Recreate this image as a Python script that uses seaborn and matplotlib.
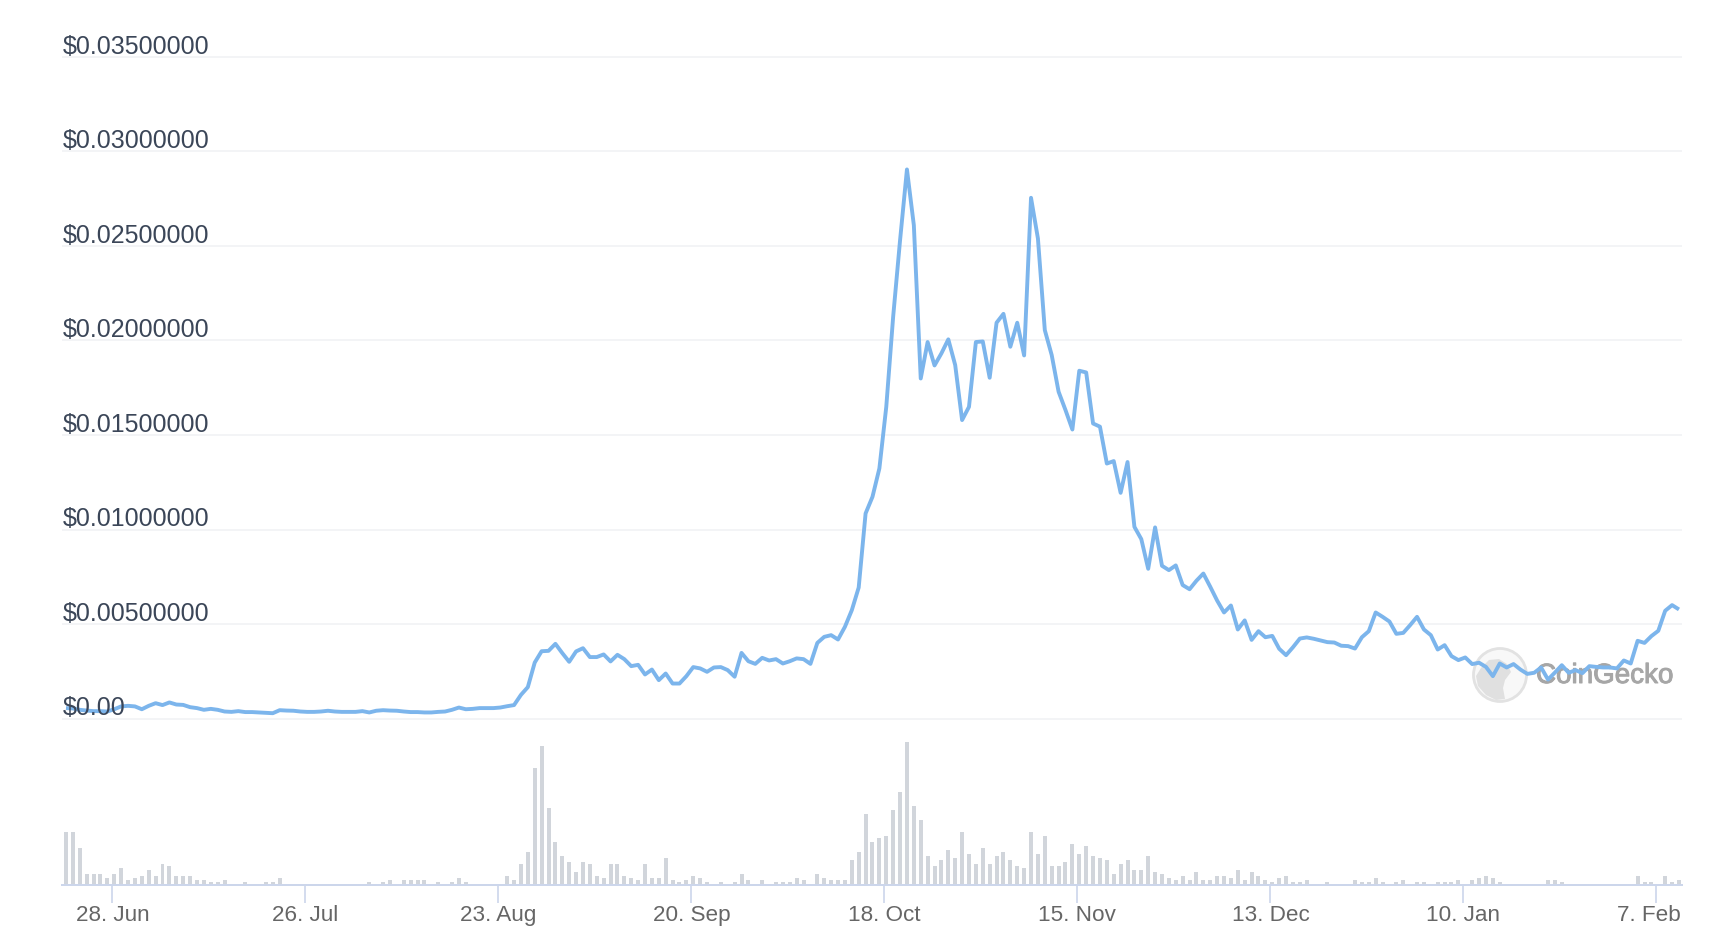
import numpy as np
import pandas as pd
import seaborn as sns
import matplotlib
matplotlib.use("Agg")
import matplotlib.pyplot as plt
import matplotlib.dates as mdates
import matplotlib.patheffects as pe
from matplotlib.patches import Polygon, Ellipse
from matplotlib.transforms import ScaledTranslation

# Price in thousandths of a dollar, one value a day
price_milli_usd = [
    .55, .53, .46, .42, .39, .39, .37, .49, .64, .67, .64, .49, .67, .81, .71, .85, .74, .72, .60, .55,
    .46, .51, .46, .37, .35, .39, .34, .34, .32, .30, .28, .44, .42, .41, .37, .35, .35, .37, .41, .37,
    .35, .35, .35, .39, .32, .41, .44, .42, .41, .37, .34, .34, .32, .32, .35, .37, .46, .58, .49, .51,
    .55, .55, .55, .58, .65, .71, 1.25, 1.66, 2.96, 3.56, 3.58, 3.95, 3.46, 3.00, 3.55, 3.72, 3.25, 3.25, 3.39, 3.02,
    3.37, 3.14, 2.77, 2.84, 2.33, 2.59, 2.03, 2.38, 1.85, 1.85, 2.24, 2.72, 2.65, 2.47, 2.70, 2.72, 2.56, 2.21, 3.47, 3.03,
    2.89, 3.21, 3.07, 3.14, 2.91, 3.03, 3.18, 3.14, 2.89, 4.00, 4.32, 4.41, 4.18, 4.85, 5.73, 6.93, 10.85, 11.73, 13.23, 16.49,
    21.26, 25.30, 29.05, 26.10, 17.99, 19.92, 18.68, 19.32, 20.06, 18.70, 15.79, 16.49, 19.92, 19.95, 18.03, 20.94, 21.41, 19.67, 20.94, 19.21,
    27.55, 25.40, 20.55, 19.23, 17.29, 16.32, 15.29, 18.40, 18.31, 15.61, 15.44, 13.49, 13.62, 11.94, 13.57, 10.14, 9.49, 7.92, 10.11, 8.08,
    7.85, 8.10, 7.06, 6.84, 7.29, 7.67, 6.97, 6.24, 5.61, 5.98, 4.71, 5.19, 4.16, 4.62, 4.30, 4.37, 3.69, 3.35, 3.77, 4.23,
    4.29, 4.22, 4.13, 4.04, 4.02, 3.85, 3.83, 3.70, 4.30, 4.62, 5.61, 5.38, 5.13, 4.48, 4.53, 4.94, 5.38, 4.71, 4.41, 3.65,
    3.88, 3.30, 3.09, 3.23, 2.88, 2.95, 2.73, 2.24, 2.91, 2.70, 2.88, 2.59, 2.36, 2.42, 2.70, 2.06, 2.43, 2.82, 2.42, 2.56,
    2.40, 2.77, 2.73, 2.70, 2.70, 2.65, 3.07, 2.91, 4.11, 4.00, 4.36, 4.64, 5.70, 6.00, 5.77,
]

# Relative daily volume
volume_rel = [
    52, 52, 36, 10, 10, 10, 6, 10, 16, 4, 6, 8, 14, 8, 20, 18, 8, 8, 8, 4,
    4, 2, 2, 4, 0, 0, 2, 0, 0, 2, 2, 6, 0, 0, 0, 0, 0, 0, 0, 0,
    0, 0, 0, 0, 2, 0, 2, 4, 0, 4, 4, 4, 4, 0, 2, 0, 2, 6, 2, 0,
    0, 0, 0, 0, 8, 4, 20, 32, 116, 138, 76, 42, 28, 22, 12, 22, 20, 8, 6, 20,
    20, 8, 6, 4, 20, 6, 6, 26, 4, 2, 4, 8, 6, 2, 0, 2, 0, 2, 10, 4,
    0, 4, 0, 2, 2, 2, 6, 4, 0, 10, 6, 4, 4, 4, 24, 32, 70, 42, 46, 48,
    74, 92, 142, 78, 64, 28, 18, 24, 34, 26, 52, 30, 20, 36, 20, 28, 32, 24, 18, 16,
    52, 30, 48, 18, 18, 22, 40, 30, 38, 28, 26, 24, 10, 20, 24, 14, 14, 28, 12, 10,
    6, 4, 8, 4, 12, 4, 4, 8, 8, 6, 14, 4, 12, 8, 4, 2, 6, 8, 2, 2,
    4, 0, 0, 2, 0, 0, 0, 4, 2, 2, 6, 2, 0, 2, 4, 0, 2, 2, 0, 2,
    2, 2, 4, 0, 4, 6, 8, 6, 2, 0, 0, 0, 0, 0, 0, 4, 4, 2, 0, 0,
    0, 0, 0, 0, 0, 0, 0, 0, 8, 2, 2, 0, 8, 2, 4,
]

y_tick_values = [0, 0.005, 0.01, 0.015, 0.02, 0.025, 0.03, 0.035]
y_tick_labels = ["$0.00", "$0.00500000", "$0.01000000", "$0.01500000",
                 "$0.02000000", "$0.02500000", "$0.03000000", "$0.03500000"]
x_tick_dates = ["2021-06-28", "2021-07-26", "2021-08-23", "2021-09-20", "2021-10-18",
                "2021-11-15", "2021-12-13", "2022-01-10", "2022-02-07"]
x_tick_labels = ["28. Jun", "26. Jul", "23. Aug", "20. Sep", "18. Oct",
                 "15. Nov", "13. Dec", "10. Jan", "7. Feb"]

W, H = 1720, 946
LEFT, RIGHT = 62, 1682
P_TOP, P_BOT = 57, 718.5
V_TOP, V_BOT = 742, 884.5

sns.set_theme(style="white")
plt.rcParams["font.family"] = ["Liberation Sans", "DejaVu Sans"]

dates = pd.date_range("2021-06-21 06:30", periods=len(price_milli_usd), freq="D")
xnum = mdates.date2num(dates)
df = pd.DataFrame({"x": xnum, "price": np.array(price_milli_usd) / 1000.0, "volume": volume_rel})

fig = plt.figure(figsize=(W / 100, H / 100), dpi=100, facecolor="white")
ax = fig.add_axes([LEFT / W, 1 - P_BOT / H, (RIGHT - LEFT) / W, (P_BOT - P_TOP) / H])
vx = fig.add_axes([LEFT / W, 1 - V_BOT / H, (RIGHT - LEFT) / W, (V_BOT - V_TOP) / H])

xlim = (xnum[0] - 0.58, xnum[-1] + 0.44)

# price panel
ax.set_axisbelow(False)
ax.hlines(y_tick_values, xlim[0], xlim[1], color="#f3f4f6", linewidth=1.44, zorder=1, clip_on=False)

# watermark
tf = fig.transFigure
def fp(x, y):
    return (x / W, 1 - y / H)
ring = Ellipse(fp(1500, 675), 53 / W, 53 / H, transform=tf, facecolor="#f8f8f8",
               edgecolor="#e2e2e2", linewidth=2.0, zorder=1.2, clip_on=False)
ax.add_artist(ring)
body = Polygon([fp(*p) for p in [(1481, 668), (1489, 660), (1499, 659), (1507, 664), (1511, 672),
                                 (1505, 680), (1503, 688), (1505, 699), (1496, 700), (1486, 695),
                                 (1478, 686), (1476, 676)]],
               closed=True, transform=tf, facecolor="#e0e0e0", edgecolor="none", zorder=1.3, clip_on=False)
ax.add_artist(body)
ax.text(1536 / W, 1 - 683 / H, "CoinGecko", transform=tf, fontsize=20, color="#a6a6a6",
        ha="left", va="baseline", zorder=1.4, clip_on=False, fontweight="normal",
        path_effects=[pe.withStroke(linewidth=0.7, foreground="#a6a6a6")])

sns.lineplot(data=df, x="x", y="price", ax=ax, color="#7cb5ec", linewidth=2.8,
             estimator=None, errorbar=None, zorder=2, solid_capstyle="butt")
ax.set_xlim(*xlim)
ax.set_ylim(0, 0.035)
ax.set_xlabel("")
ax.set_ylabel("")
ax.set_xticks([])
ax.set_yticks(y_tick_values)
ax.set_yticklabels(y_tick_labels)
ax.tick_params(axis="y", length=0, pad=0, labelsize=18, labelcolor="#3b4658")
off = ScaledTranslation(1.0 / 100, 3.4 / 100, fig.dpi_scale_trans)
for lab in ax.get_yticklabels():
    lab.set_ha("left")
    lab.set_va("baseline")
    lab.set_transform(lab.get_transform() + off)
for s in ax.spines.values():
    s.set_visible(False)
ax.patch.set_alpha(0)

# volume panel
sns.barplot(data=df, x="x", y="volume", ax=vx, native_scale=True, orient="x", color="#d1d5db",
            saturation=1, width=0.58, errorbar=None, linewidth=0)
vx.set_xlim(*xlim)
vx.set_ylim(0, 142)
vx.set_xlabel("")
vx.set_ylabel("")
vx.set_yticks([])
vx.set_xticks(mdates.date2num(pd.to_datetime(x_tick_dates)))
vx.set_xticklabels(x_tick_labels)
vx.tick_params(axis="x", length=13, width=1.2, color="#ccd6eb", labelsize=16.2,
               labelcolor="#666666", pad=2, bottom=True)
last = vx.get_xticklabels()[-1]
last.set_transform(last.get_transform() + ScaledTranslation(-7.5 / 100, 0, fig.dpi_scale_trans))
for name, s in vx.spines.items():
    s.set_visible(name == "bottom")
vx.spines["bottom"].set_color("#ccd6eb")
vx.spines["bottom"].set_linewidth(1.44)
vx.patch.set_alpha(0)

fig.savefig("out.png", dpi=100)
